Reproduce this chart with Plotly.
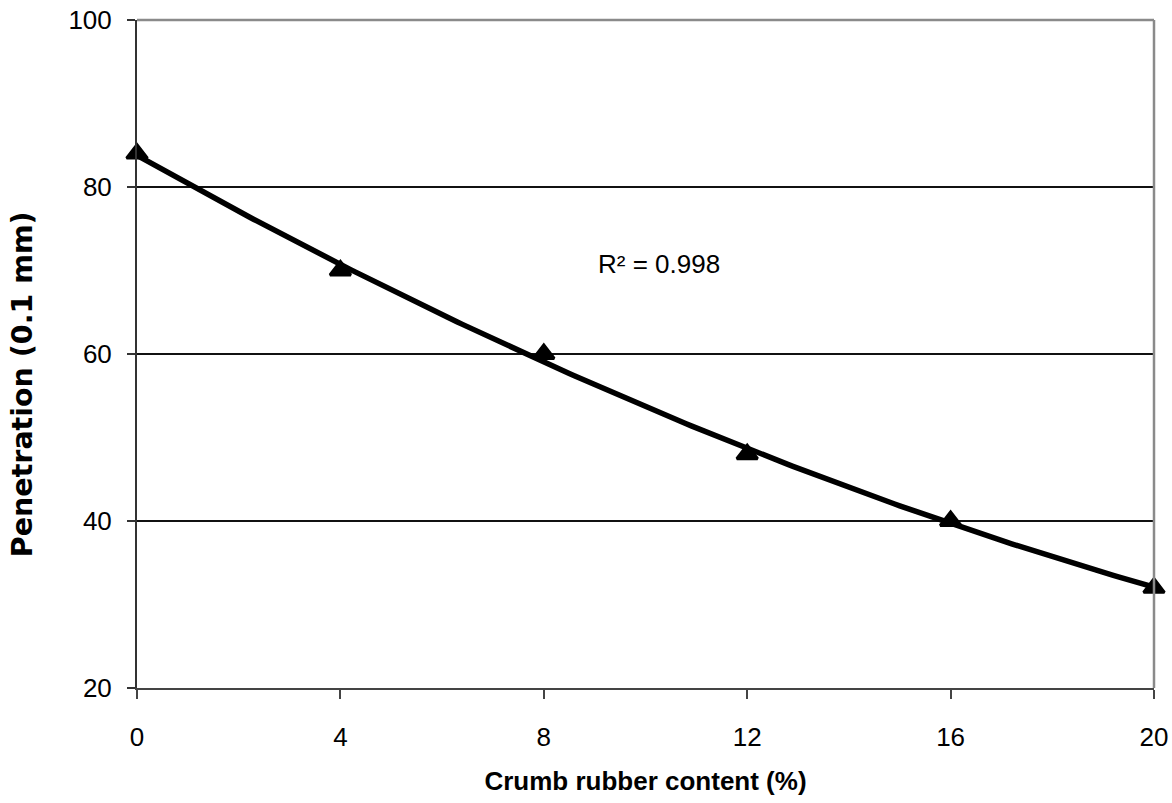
import numpy as np
import plotly.graph_objects as go

# Data
crumb_rubber = [0, 4, 8, 12, 16, 20]           # %
penetration = [84, 70, 60, 48, 40, 32]          # 0.1 mm
x_ticks = [0, 4, 8, 12, 16, 20]
y_ticks = [20, 40, 60, 80, 100]
r2_label = "R² = 0.998"

# Second-order polynomial trendline (as in the spreadsheet chart)
coef = np.polyfit(crumb_rubber, penetration, 2)
trend_x = np.linspace(min(crumb_rubber), max(crumb_rubber), 201)
trend_y = np.polyval(coef, trend_x)

FONT = "Liberation Sans, Arial, sans-serif"

fig = go.Figure()
fig.add_trace(go.Scatter(
    x=trend_x, y=trend_y, mode="lines",
    line=dict(color="black", width=5.5),
    hoverinfo="skip", showlegend=False,
))
fig.add_trace(go.Scatter(
    x=crumb_rubber, y=penetration, mode="markers",
    marker=dict(symbol="triangle-up", size=18, color="black",
                line=dict(color="black", width=3)),
    cliponaxis=False, showlegend=False,
))

fig.add_annotation(
    x=10.27, y=70.8, xref="x", yref="y", text=r2_label, showarrow=False,
    font=dict(family=FONT, size=26, color="black"),
    xanchor="center", yanchor="middle",
)
fig.add_annotation(
    x=-0.113, y=0.455, xref="paper", yref="paper",
    text="Penetration (0.1 mm)", showarrow=False, textangle=-90,
    font=dict(family="DejaVu Sans, sans-serif", size=28.5, color="black", weight="bold"),
    xanchor="center", yanchor="middle",
)

# top and right frame (grey)
fig.add_shape(type="line", xref="paper", yref="paper", x0=0, x1=1, y0=1, y1=1,
              line=dict(color="#8a8a8a", width=2.5), layer="above")
fig.add_shape(type="line", xref="paper", yref="paper", x0=1, x1=1, y0=0, y1=1,
              line=dict(color="#8a8a8a", width=2.5), layer="above")

fig.update_layout(
    width=1172, height=803,
    margin=dict(l=137, r=18, t=20, b=115, autoexpand=False),
    paper_bgcolor="white", plot_bgcolor="white",
    font=dict(family=FONT, size=26, color="black"),
    xaxis=dict(
        range=[0, 20], tickmode="array", tickvals=x_ticks,
        showgrid=False, zeroline=False,
        showline=True, linecolor="#444444", linewidth=2,
        ticks="outside", ticklen=9, tickwidth=1.5, tickcolor="#444444",
        tickfont=dict(family=FONT, size=26, color="black"),
        ticklabelstandoff=16,
        title=dict(text="<b>Crumb rubber content (%)</b>",
                   font=dict(family=FONT, size=26, color="black"), standoff=21),
    ),
    yaxis=dict(
        range=[20, 100], tickmode="array", tickvals=y_ticks,
        showgrid=True, gridcolor="#111111", gridwidth=1.5, zeroline=False,
        showline=True, linecolor="#333333", linewidth=2,
        ticks="outside", ticklen=8, tickwidth=1.5, tickcolor="#333333",
        tickfont=dict(family=FONT, size=26, color="black"),
        ticklabelstandoff=10,
    ),
)

fig.write_html("out.html", config={"displayModeBar": False},
               post_script="document.body.style.margin='0px';")
